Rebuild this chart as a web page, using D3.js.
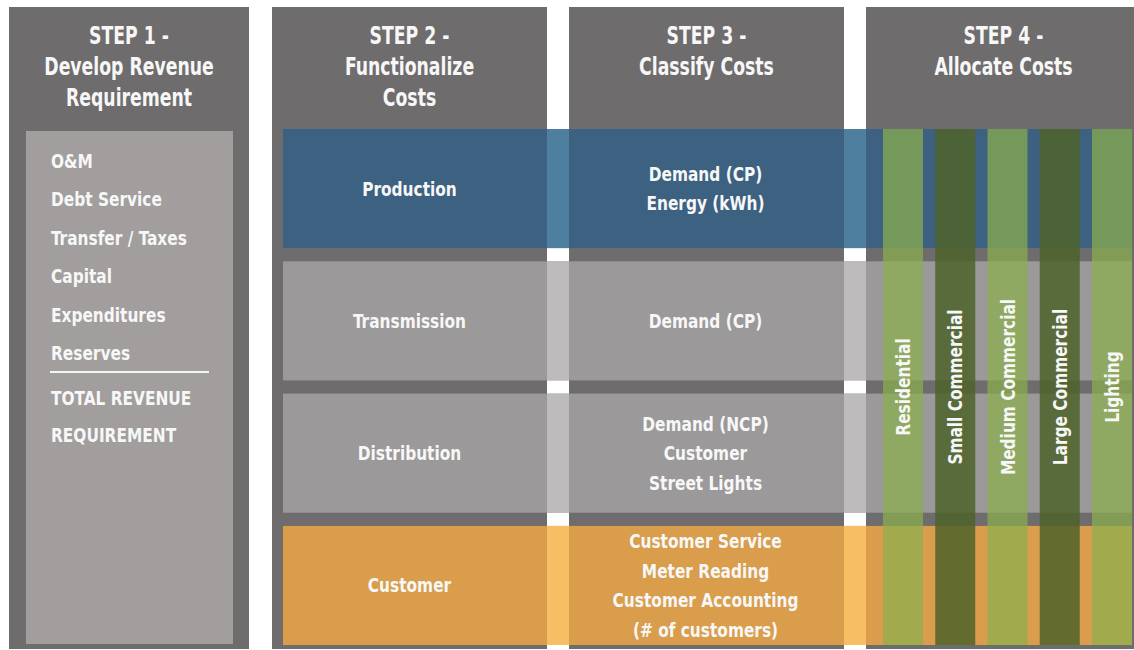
<!DOCTYPE html>
<html>
<head>
<meta charset="utf-8">
<script src="https://cdn.jsdelivr.net/npm/d3@7"></script>
<style>
  html, body { margin: 0; padding: 0; background: #ffffff; }
  svg { display: block; }
  text { font-family: "DejaVu Sans Condensed", "DejaVu Sans", sans-serif; font-weight: bold; fill: #f7f7f7; }
</style>
</head>
<body>
<svg id="chart" width="1134" height="650"></svg>
<script>
// ---------- data ----------
const stepTitles = [
  ["STEP 1 -", "Develop Revenue", "Requirement"],
  ["STEP 2 -", "Functionalize", "Costs"],
  ["STEP 3 -", "Classify Costs"],
  ["STEP 4 -", "Allocate Costs"]
];
const revenueItems = ["O&M", "Debt Service", "Transfer / Taxes", "Capital", "Expenditures", "Reserves"];
const revenueTotal = ["TOTAL REVENUE", "REQUIREMENT"];
const functions = ["Production", "Transmission", "Distribution", "Customer"];
const classifications = [
  ["Demand (CP)", "Energy (kWh)"],
  ["Demand (CP)"],
  ["Demand (NCP)", "Customer", "Street Lights"],
  ["Customer Service", "Meter Reading", "Customer Accounting", "(# of customers)"]
];
const customerClasses = ["Residential", "Small Commercial", "Medium Commercial", "Large Commercial", "Lighting"];

// ---------- styles ----------
const panelColor = "#6f6c6d";
const innerColor = "#a19e9d";
const bandColors = [
  { main: "#3d6180", gap: "#4f7f9f" },
  { main: "#9b999a", gap: "#bdbbbc" },
  { main: "#9b999a", gap: "#bdbbbc" },
  { main: "#d99d4c", gap: "#f8be63" }
];
const classColors = [
  { fill: "rgb(138,174,76)", op: 0.72 },
  { fill: "rgb(79,99,42)", op: 0.85 },
  { fill: "rgb(138,174,76)", op: 0.72 },
  { fill: "rgb(79,99,42)", op: 0.85 },
  { fill: "rgb(138,174,76)", op: 0.72 }
];
const headSize = 24, headScale = 0.8;
const bodySize = 19, bodyScale = 0.9;

const svg = d3.select("#chart");

function label(parent, str, x, y, size, sx, anchor, rot) {
  return parent.append("text")
    .attr("text-anchor", anchor || "middle")
    .attr("font-size", size)
    .attr("transform", `translate(${x},${y})${rot ? " rotate(" + rot + ")" : ""} scale(${sx},1)`)
    .text(str);
}

// ---------- scales ----------
const xStep = d3.scaleBand().domain([1, 2, 3]).range([272, 1141]).paddingInner(22 / 297);
const step1 = { x0: 9, x1: 249 };
const yRow = d3.scaleBand().domain(functions).range([129, 645]).paddingInner(0.1);
const xClass = d3.scaleBand().domain(customerClasses).range([883, 1132]).paddingInner(0.234);
const yList = d3.scaleLinear().domain([0, 1]).range([168, 206.4]);

const panelTop = 7, panelBottom = 649;

// ---------- panels ----------
svg.append("rect").attr("x", step1.x0).attr("y", panelTop)
  .attr("width", step1.x1 - step1.x0).attr("height", panelBottom - panelTop).attr("fill", panelColor);
svg.selectAll("rect.step").data([1, 2, 3]).join("rect").attr("class", "step")
  .attr("x", d => xStep(d)).attr("y", panelTop)
  .attr("width", d => Math.min(xStep.bandwidth(), 1134 - xStep(d)))
  .attr("height", panelBottom - panelTop).attr("fill", panelColor);

svg.append("rect").attr("x", 26).attr("y", yRow(functions[0]) + 2)
  .attr("width", 207).attr("height", 644 - (yRow(functions[0]) + 2)).attr("fill", innerColor);

// headers
const headerCenters = [(step1.x0 + step1.x1) / 2, ...[1, 2, 3].map(d => xStep(d) + xStep.bandwidth() / 2)];
stepTitles.forEach((lines, i) => {
  lines.forEach((t, j) => label(svg, t, headerCenters[i], 44 + j * 31, headSize, headScale));
});

// revenue list
revenueItems.forEach((t, i) => label(svg, t, 51, yList(i), bodySize, bodyScale, "start"));
const ruleY = yList(revenueItems.length - 1) + 12;
svg.append("line").attr("x1", 50).attr("x2", 209).attr("y1", ruleY).attr("y2", ruleY)
  .attr("stroke", "#f4f4f4").attr("stroke-width", 2);
revenueTotal.forEach((t, i) => label(svg, t, 51, yList(revenueItems.length - 1) + 45 + i * 37, bodySize, bodyScale, "start"));

// ---------- function bands ----------
const bandX0 = 283, bandX1 = 1132;
const gaps = [[xStep(1) + xStep.bandwidth(), xStep(2)], [xStep(2) + xStep.bandwidth(), xStep(3)]];
functions.forEach((f, i) => {
  const y = yRow(f), h = yRow.bandwidth();
  svg.append("rect").attr("x", bandX0).attr("y", y).attr("width", bandX1 - bandX0).attr("height", h)
    .attr("fill", bandColors[i].main);
  gaps.forEach(g => {
    svg.append("rect").attr("x", g[0]).attr("y", y).attr("width", g[1] - g[0]).attr("height", h)
      .attr("fill", bandColors[i].gap);
  });
  label(svg, f, xStep(1) + xStep.bandwidth() / 2, y + h / 2 + 7, bodySize, bodyScale);
  const lines = classifications[i];
  const lh = 29.5;
  lines.forEach((t, j) => label(svg, t, xStep(2) + xStep.bandwidth() / 2 - 1,
    y + h / 2 + 7 + (j - (lines.length - 1) / 2) * lh, bodySize, bodyScale));
});

// ---------- customer class bars ----------
const barTop = yRow(functions[0]), barBottom = yRow(functions[3]) + yRow.bandwidth();
customerClasses.forEach((c, i) => {
  svg.append("rect").attr("x", xClass(c)).attr("y", barTop)
    .attr("width", xClass.bandwidth()).attr("height", barBottom - barTop)
    .attr("fill", classColors[i].fill).attr("fill-opacity", classColors[i].op);
  label(svg, c, xClass(c) + xClass.bandwidth() / 2 + 7, (barTop + barBottom) / 2, bodySize, bodyScale, "middle", -90);
});
</script>
</body>
</html>
